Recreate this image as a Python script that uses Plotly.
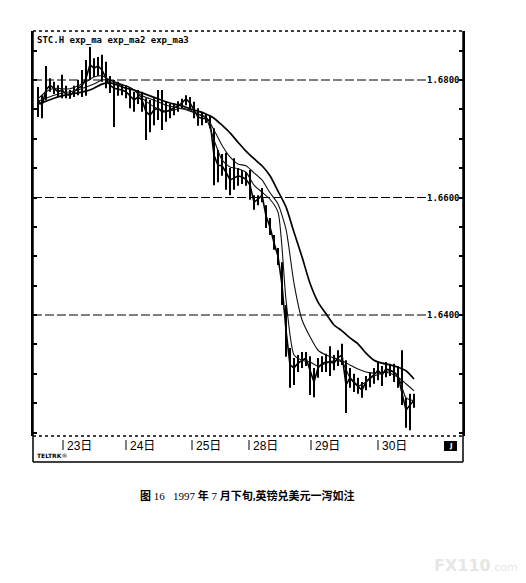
import plotly.graph_objects as go

# The page body has an 8px default margin, so the figure is drawn 8px smaller
# and all layout positions are given in window pixels minus that offset.
WIN_W, WIN_H = 526, 583
OFF = 8
W, H = WIN_W - OFF, WIN_H - OFF

# ---------------- data (GBP/USD, 22-30 July 1997) ----------------
sample_idx = list(range(95))

price_high = [1.6788, 1.6774, 1.6824, 1.6803, 1.6797, 1.6791, 1.6809, 1.6790, 1.6783, 1.6790,
              1.6800, 1.6817, 1.6834, 1.6856, 1.6837, 1.6839, 1.6843, 1.6831, 1.6807, 1.6800,
              1.6797, 1.6793, 1.6790, 1.6786, 1.6780, 1.6783, 1.6780, 1.6769, 1.6766, 1.6769,
              1.6783, 1.6783, 1.6763, 1.6759, 1.6761, 1.6764, 1.6768, 1.6774, 1.6771, 1.6763,
              1.6752, 1.6746, 1.6742, 1.6739, 1.6718, 1.6681, 1.6674, 1.6676, 1.6650, 1.6667,
              1.6650, 1.6647, 1.6643, 1.6647, 1.6604, 1.6604, 1.6616, 1.6587, 1.6565, 1.6536,
              1.6514, 1.6490, 1.6417, 1.6344, 1.6327, 1.6332, 1.6337, 1.6337, 1.6330, 1.6310,
              1.6327, 1.6330, 1.6334, 1.6347, 1.6332, 1.6340, 1.6351, 1.6323, 1.6310, 1.6300,
              1.6293, 1.6286, 1.6296, 1.6303, 1.6310, 1.6320, 1.6313, 1.6320, 1.6317, 1.6317,
              1.6313, 1.6340, 1.6259, 1.6266, 1.6266]

price_low = [1.6737, 1.6735, 1.6766, 1.6780, 1.6776, 1.6771, 1.6769, 1.6769, 1.6768, 1.6771,
             1.6774, 1.6771, 1.6773, 1.6800, 1.6805, 1.6807, 1.6797, 1.6786, 1.6778, 1.6720,
             1.6773, 1.6774, 1.6769, 1.6752, 1.6746, 1.6759, 1.6746, 1.6698, 1.6711, 1.6723,
             1.6732, 1.6715, 1.6729, 1.6735, 1.6740, 1.6746, 1.6752, 1.6757, 1.6749, 1.6735,
             1.6722, 1.6723, 1.6727, 1.6718, 1.6621, 1.6626, 1.6637, 1.6613, 1.6604, 1.6613,
             1.6620, 1.6623, 1.6620, 1.6596, 1.6579, 1.6587, 1.6592, 1.6548, 1.6536, 1.6511,
             1.6485, 1.6417, 1.6329, 1.6276, 1.6281, 1.6303, 1.6310, 1.6313, 1.6264, 1.6260,
             1.6293, 1.6303, 1.6303, 1.6296, 1.6306, 1.6313, 1.6315, 1.6233, 1.6276, 1.6269,
             1.6266, 1.6259, 1.6272, 1.6277, 1.6283, 1.6289, 1.6279, 1.6294, 1.6296, 1.6286,
             1.6276, 1.6247, 1.6208, 1.6204, 1.6242]

price_close = [1.6766, 1.6757, 1.6783, 1.6791, 1.6786, 1.6780, 1.6783, 1.6776, 1.6774, 1.6780,
               1.6786, 1.6790, 1.6803, 1.6826, 1.6820, 1.6824, 1.6817, 1.6803, 1.6791, 1.6786,
               1.6785, 1.6783, 1.6780, 1.6773, 1.6766, 1.6771, 1.6766, 1.6746, 1.6740, 1.6749,
               1.6752, 1.6746, 1.6746, 1.6749, 1.6752, 1.6756, 1.6761, 1.6768, 1.6761, 1.6749,
               1.6737, 1.6735, 1.6734, 1.6730, 1.6672, 1.6655, 1.6654, 1.6643, 1.6630, 1.6633,
               1.6637, 1.6635, 1.6631, 1.6621, 1.6592, 1.6597, 1.6604, 1.6569, 1.6550, 1.6523,
               1.6500, 1.6451, 1.6374, 1.6315, 1.6310, 1.6318, 1.6322, 1.6327, 1.6306, 1.6286,
               1.6310, 1.6317, 1.6320, 1.6320, 1.6318, 1.6327, 1.6332, 1.6281, 1.6293, 1.6286,
               1.6279, 1.6272, 1.6286, 1.6293, 1.6298, 1.6306, 1.6298, 1.6308, 1.6306, 1.6303,
               1.6296, 1.6264, 1.6238, 1.6247, 1.6255]

ma_idx = list(range(0, 95, 2))

exp_ma = [1.6768, 1.6780, 1.6786, 1.6785, 1.6785, 1.6790, 1.6797, 1.6805, 1.6807, 1.6800,
          1.6793, 1.6790, 1.6783, 1.6769, 1.6759, 1.6751, 1.6747, 1.6749, 1.6752, 1.6749,
          1.6742, 1.6735, 1.6698, 1.6664, 1.6652, 1.6649, 1.6643, 1.6621, 1.6609, 1.6597,
          1.6575, 1.6426, 1.6332, 1.6323, 1.6320, 1.6313, 1.6318, 1.6322, 1.6320, 1.6293,
          1.6279, 1.6286, 1.6296, 1.6301, 1.6305, 1.6296, 1.6259, 1.6254]

exp_ma2 = [1.6764, 1.6769, 1.6774, 1.6778, 1.6780, 1.6783, 1.6788, 1.6793, 1.6800, 1.6800,
           1.6795, 1.6790, 1.6783, 1.6773, 1.6768, 1.6763, 1.6757, 1.6754, 1.6751, 1.6747,
           1.6742, 1.6737, 1.6715, 1.6689, 1.6669, 1.6657, 1.6654, 1.6642, 1.6630, 1.6608,
           1.6589, 1.6546, 1.6454, 1.6392, 1.6363, 1.6340, 1.6332, 1.6327, 1.6322, 1.6315,
           1.6308, 1.6303, 1.6301, 1.6303, 1.6301, 1.6294, 1.6283, 1.6271]

exp_ma3 = [1.6759, 1.6764, 1.6769, 1.6773, 1.6776, 1.6778, 1.6781, 1.6786, 1.6793, 1.6795,
           1.6791, 1.6786, 1.6783, 1.6778, 1.6773, 1.6768, 1.6763, 1.6759, 1.6756, 1.6751,
           1.6747, 1.6742, 1.6735, 1.6723, 1.6710, 1.6694, 1.6679, 1.6666, 1.6654, 1.6637,
           1.6611, 1.6584, 1.6541, 1.6499, 1.6454, 1.6422, 1.6402, 1.6383, 1.6373, 1.6361,
           1.6351, 1.6335, 1.6323, 1.6318, 1.6315, 1.6311, 1.6305, 1.6291]

grid_levels = [1.6800, 1.6600, 1.6400]
grid_labels = ["1.6800", "1.6600", "1.6400"]

day_labels = ["23日", "24日", "25日", "28日", "29日", "30日"]
day_start_idx = [6.25, 22, 38.5, 52.75, 68.25, 85]

legend_text = "STC.H exp_ma exp_ma2 exp_ma3"
caption = "<b>图</b> 16   1997 <b>年</b> 7 <b>月下旬,英镑兑美元一泻如注</b>"

# ---------------- helpers for page geometry (window pixels) ----------------
def px(x):
    return (x - OFF) / W

def py(y):
    return 1 - (y - OFF) / H

X_L, X_R = 33, 463
Y_T, Y_B, Y_S = 31, 436, 462

fig = go.Figure()

# high-low bars
seg_x, seg_y = [], []
for i, hi, lo in zip(sample_idx, price_high, price_low):
    seg_x += [i, i, None]
    seg_y += [lo, hi, None]
fig.add_trace(go.Scatter(x=seg_x, y=seg_y, mode="lines",
                         line=dict(color="black", width=2.0), hoverinfo="skip",
                         showlegend=False))
fig.add_trace(go.Scatter(x=sample_idx, y=price_close, mode="lines", name="STC.H",
                         line=dict(color="black", width=1.6), showlegend=False))

fig.add_trace(go.Scatter(x=ma_idx, y=exp_ma3, mode="lines", name="exp_ma3",
                         line=dict(color="black", width=1.7, shape="spline", smoothing=0.6),
                         showlegend=False))
fig.add_trace(go.Scatter(x=ma_idx, y=exp_ma2, mode="lines", name="exp_ma2",
                         line=dict(color="#111", width=1.1, shape="spline", smoothing=0.6),
                         showlegend=False))
fig.add_trace(go.Scatter(x=ma_idx, y=exp_ma, mode="lines", name="exp_ma",
                         line=dict(color="#111", width=1.1, shape="spline", smoothing=0.6),
                         showlegend=False))

shapes = []
annotations = []

# horizontal grid lines with labels
for lvl, lab in zip(grid_levels, grid_labels):
    shapes.append(dict(type="line", xref="paper", yref="y", x0=px(X_L), x1=px(430),
                       y0=lvl, y1=lvl, line=dict(color="black", width=1, dash="9px,3px")))
    annotations.append(dict(x=px(462), y=lvl, xref="paper", yref="y", text="<b>" + lab + "</b>",
                            showarrow=False, xanchor="right", yanchor="middle",
                            font=dict(family="DejaVu Sans Mono", size=9, color="black")))

# frame
shapes += [
    dict(type="line", xref="paper", yref="paper", x0=px(X_L), x1=px(X_R), y0=py(Y_T), y1=py(Y_T),
         line=dict(color="black", width=1.6, dash="dot")),
    dict(type="line", xref="paper", yref="paper", x0=px(X_L), x1=px(X_R), y0=py(Y_B), y1=py(Y_B),
         line=dict(color="black", width=1.6, dash="dot")),
    dict(type="line", xref="paper", yref="paper", x0=px(X_L), x1=px(X_R), y0=py(Y_S), y1=py(Y_S),
         line=dict(color="black", width=1.5)),
    dict(type="line", xref="paper", yref="paper", x0=px(X_L), x1=px(X_L), y0=py(Y_S), y1=py(Y_T),
         line=dict(color="black", width=1.5)),
    dict(type="line", xref="paper", yref="paper", x0=px(X_R), x1=px(X_R), y0=py(Y_S), y1=py(Y_T),
         line=dict(color="black", width=1.5)),
    dict(type="rect", xref="paper", yref="paper", x0=px(444), x1=px(457), y0=py(451), y1=py(441),
         fillcolor="black", line=dict(width=0)),
]

# date strip
for d, lab in zip(day_start_idx, day_labels):
    shapes.append(dict(type="line", xref="x", yref="paper", x0=d, x1=d, y0=py(450), y1=py(440),
                       line=dict(color="black", width=1)))
    annotations.append(dict(x=d + 0.6, y=py(445.5), xref="x", yref="paper", text=lab,
                            showarrow=False, xanchor="left", yanchor="middle",
                            font=dict(family="Liberation Sans, Noto Sans CJK SC", size=12,
                                      color="black")))

annotations += [
    dict(x=px(35), y=py(40), xref="paper", yref="paper", text="<b>" + legend_text + "</b>",
         showarrow=False, xanchor="left", yanchor="middle",
         font=dict(family="DejaVu Sans Mono", size=9, color="black")),
    dict(x=px(35), y=py(455), xref="paper", yref="paper", text="<b>TELTRK</b>®",
         showarrow=False, xanchor="left", yanchor="middle",
         font=dict(family="DejaVu Sans", size=6, color="black")),
    dict(x=px(450.5), y=py(446), xref="paper", yref="paper", text="<b>J</b>",
         showarrow=False, xanchor="center", yanchor="middle",
         font=dict(family="DejaVu Sans", size=7, color="white")),
    dict(x=px(247), y=py(495), xref="paper", yref="paper", text=caption,
         showarrow=False, xanchor="center", yanchor="middle",
         font=dict(family="Liberation Serif, Noto Sans CJK SC", size=11, color="black")),
    dict(x=px(432), y=py(565), xref="paper", yref="paper",
         text="<b>FX110</b><span style='font-size:11px'>.com</span>",
         showarrow=False, xanchor="left", yanchor="middle",
         font=dict(family="DejaVu Sans", size=16, color="#e6e6e6")),
]

fig.update_layout(
    width=W, height=H,
    margin=dict(l=0, r=0, t=0, b=0),
    paper_bgcolor="white", plot_bgcolor="white",
    showlegend=False,
    shapes=shapes, annotations=annotations,
    xaxis=dict(domain=[px(X_L), px(X_R)], range=[-1.25, 106.25], showgrid=False,
               zeroline=False, showticklabels=False, ticks="", showline=False),
    yaxis=dict(domain=[py(Y_B), py(Y_T)], range=[1.619405, 1.68834], showgrid=False,
               zeroline=False, showticklabels=False, ticks="inside", ticklen=4,
               tickcolor="black", tickwidth=1.5, tick0=1.62, dtick=0.005,
               showline=True, linecolor="black", linewidth=1.5, mirror="ticks"),
)

fig.write_html("out.html")
